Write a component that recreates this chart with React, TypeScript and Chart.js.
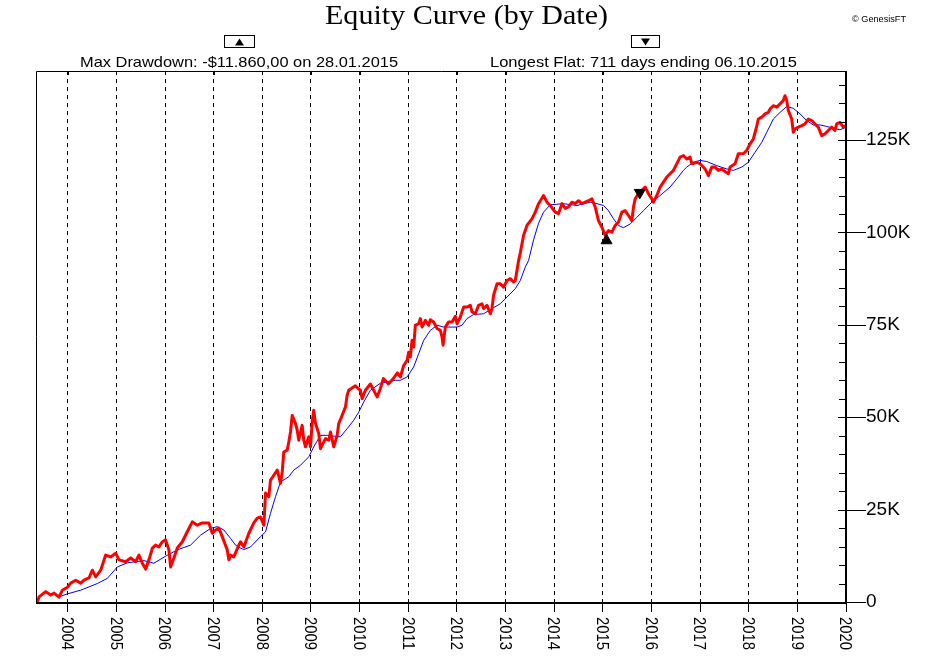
import { useEffect, useRef } from 'react';
import { Chart, registerables } from 'chart.js';

Chart.register(...registerables);

// ---------- data (dates as decimal years, equity in thousands of $) ----------
const redDates = [
  2003.378, 2003.411, 2003.548, 2003.651, 2003.719, 2003.821, 2003.891, 2003.994, 2004.062, 2004.164,
  2004.267, 2004.335, 2004.437, 2004.507, 2004.575, 2004.678, 2004.780, 2004.883, 2004.986, 2005.054,
  2005.191, 2005.294, 2005.397, 2005.464, 2005.534, 2005.602, 2005.670, 2005.740, 2005.807, 2005.875,
  2005.945, 2006.013, 2006.081, 2006.115, 2006.183, 2006.253, 2006.356, 2006.458, 2006.561, 2006.664,
  2006.766, 2006.902, 2006.972, 2007.040, 2007.107, 2007.177, 2007.280, 2007.313, 2007.348, 2007.415,
  2007.518, 2007.553, 2007.621, 2007.724, 2007.826, 2007.896, 2007.964, 2008.032, 2008.067, 2008.134,
  2008.169, 2008.237, 2008.307, 2008.375, 2008.410, 2008.442, 2008.512, 2008.545, 2008.580, 2008.615,
  2008.683, 2008.718, 2008.750, 2008.820, 2008.853, 2008.888, 2008.956, 2008.991, 2009.026, 2009.058,
  2009.093, 2009.161, 2009.196, 2009.299, 2009.367, 2009.402, 2009.469, 2009.539, 2009.572, 2009.642,
  2009.710, 2009.744, 2009.777, 2009.915, 2010.018, 2010.053, 2010.120, 2010.223, 2010.361, 2010.428,
  2010.490, 2010.593, 2010.695, 2010.778, 2010.839, 2010.907, 2010.977, 2011.010, 2011.044, 2011.079,
  2011.112, 2011.147, 2011.215, 2011.250, 2011.285, 2011.353, 2011.420, 2011.455, 2011.523, 2011.593,
  2011.661, 2011.696, 2011.716, 2011.763, 2011.831, 2011.901, 2011.969, 2012.004, 2012.071, 2012.139,
  2012.209, 2012.277, 2012.312, 2012.380, 2012.447, 2012.517, 2012.550, 2012.620, 2012.688, 2012.722,
  2012.755, 2012.825, 2012.893, 2012.961, 2013.031, 2013.098, 2013.166, 2013.201, 2013.236, 2013.269,
  2013.304, 2013.371, 2013.441, 2013.544, 2013.612, 2013.680, 2013.782, 2013.852, 2013.920, 2014.023,
  2014.090, 2014.160, 2014.228, 2014.296, 2014.366, 2014.433, 2014.501, 2014.571, 2014.639, 2014.706,
  2014.776, 2014.844, 2014.912, 2014.982, 2015.050, 2015.117, 2015.187, 2015.255, 2015.323, 2015.392,
  2015.460, 2015.528, 2015.598, 2015.631, 2015.666, 2015.733, 2015.803, 2015.871, 2015.939, 2016.008,
  2016.041, 2016.111, 2016.179, 2016.247, 2016.317, 2016.384, 2016.452, 2016.590, 2016.658, 2016.727,
  2016.795, 2016.830, 2016.933, 2017.001, 2017.103, 2017.171, 2017.241, 2017.309, 2017.376, 2017.446,
  2017.514, 2017.582, 2017.617, 2017.719, 2017.787, 2017.890, 2017.960, 2018.027, 2018.095, 2018.151,
  2018.198, 2018.268, 2018.336, 2018.403, 2018.438, 2018.506, 2018.576, 2018.644, 2018.711, 2018.746,
  2018.781, 2018.814, 2018.884, 2018.917, 2018.952, 2019.020, 2019.089, 2019.157, 2019.225, 2019.295,
  2019.362, 2019.430, 2019.500, 2019.568, 2019.636, 2019.705, 2019.773, 2019.808, 2019.876, 2019.944,
  2020.000,
];
const redEquity = [
  0, 1.4, 2.8, 1.9, 2.4, 1.3, 3.2, 4.0, 5.1, 5.9,
  5.1, 5.9, 6.5, 8.6, 6.8, 8.6, 12.7, 12.2, 13.2, 11.4,
  10.9, 11.9, 10.9, 12.7, 10.5, 8.9, 11.4, 14.6, 15.4, 14.9,
  16.3, 16.8, 14.1, 9.5, 11.9, 14.6, 16.3, 19.0, 21.7, 20.8,
  21.4, 21.4, 18.6, 19.5, 20.0, 17.7, 14.1, 11.4, 12.7, 12.2,
  15.4, 16.3, 14.9, 18.6, 21.4, 22.7, 23.0, 20.8, 29.5, 28.5,
  33.0, 34.3, 35.7, 32.1, 35.2, 40.6, 41.1, 43.3, 46.0, 50.5,
  48.3, 46.5, 43.8, 47.8, 43.8, 42.0, 44.7, 42.0, 48.7, 51.9,
  48.3, 45.6, 41.5, 44.2, 43.8, 46.0, 42.0, 45.1, 48.3, 50.5,
  52.8, 55.9, 57.3, 58.5, 57.3, 55.0, 57.3, 59.0, 55.5, 57.8,
  60.5, 59.0, 60.5, 62.0, 60.9, 64.0, 65.4, 67.6, 66.3, 70.8,
  69.0, 74.9, 75.3, 76.7, 74.4, 76.2, 74.9, 76.4, 75.8, 74.0,
  73.5, 71.7, 69.5, 74.4, 75.8, 75.8, 77.3, 75.3, 77.1, 79.8,
  79.8, 80.3, 78.5, 78.0, 80.3, 80.7, 79.4, 80.3, 78.0, 79.4,
  83.0, 86.1, 86.1, 85.2, 87.0, 87.5, 86.6, 87.0, 89.7, 92.4,
  94.5, 99.2, 101.9, 103.7, 105.5, 107.8, 110.0, 108.2, 107.3, 105.5,
  105.1, 107.8, 106.5, 106.9, 108.2, 107.8, 108.6, 107.8, 108.2, 108.6,
  109.1, 106.9, 103.2, 101.4, 99.2, 100.5, 100.1, 101.9, 102.8, 105.5,
  105.9, 104.6, 103.2, 106.9, 109.1, 110.5, 111.4, 112.3, 110.5, 109.1,
  108.2, 110.0, 112.3, 113.6, 115.0, 115.9, 116.8, 120.4, 120.8, 119.9,
  120.4, 118.6, 119.0, 118.6, 117.2, 115.4, 117.7, 117.7, 116.8, 117.2,
  116.5, 115.9, 117.7, 118.6, 121.3, 121.3, 122.2, 124.0, 125.3, 128.0,
  130.7, 131.2, 132.1, 132.5, 133.4, 134.3, 133.9, 134.8, 135.7, 137.0,
  135.7, 133.0, 130.7, 127.1, 128.0, 128.5, 128.9, 129.4, 130.7, 130.3,
  129.4, 128.5, 126.2, 126.7, 127.6, 128.5, 127.6, 129.4, 129.8, 128.5,
  128.9,
];

const avgDates = [
  2003.821, 2003.994, 2004.267, 2004.610, 2004.815, 2005.021, 2005.226, 2005.567, 2005.772, 2006.013,
  2006.253, 2006.526, 2006.732, 2006.937, 2007.074, 2007.210, 2007.348, 2007.450, 2007.553, 2007.621,
  2007.758, 2007.964, 2008.067, 2008.169, 2008.272, 2008.375, 2008.545, 2008.648, 2008.785, 2008.956,
  2009.058, 2009.196, 2009.334, 2009.607, 2009.744, 2009.880, 2009.983, 2010.085, 2010.223, 2010.428,
  2010.736, 2010.839, 2010.977, 2011.112, 2011.215, 2011.318, 2011.455, 2011.593, 2011.729, 2012.004,
  2012.106, 2012.209, 2012.345, 2012.550, 2012.722, 2012.893, 2013.031, 2013.201, 2013.304, 2013.406,
  2013.474, 2013.577, 2013.680, 2013.782, 2013.920, 2014.193, 2014.468, 2014.741, 2014.879, 2015.015,
  2015.117, 2015.220, 2015.323, 2015.425, 2015.563, 2015.700, 2015.836, 2016.008, 2016.179, 2016.384,
  2016.522, 2016.658, 2016.727, 2016.863, 2017.001, 2017.138, 2017.343, 2017.549, 2017.685, 2017.857,
  2017.993, 2018.130, 2018.268, 2018.371, 2018.506, 2018.644, 2018.781, 2018.917, 2019.054, 2019.191,
  2019.327, 2019.465, 2019.603, 2019.738, 2019.876, 2020.000,
];
const avgEquity = [
  1.4, 2.2, 3.2, 5.0, 6.4, 9.5, 10.6, 11.2, 10.5, 12.4,
  14.1, 15.4, 18.1, 19.9, 20.4, 19.5, 17.2, 15.4, 14.6, 14.2,
  14.9, 17.7, 19.0, 24.0, 28.5, 32.5, 33.9, 35.7, 37.0, 39.3,
  42.0, 45.1, 45.1, 44.7, 46.9, 49.2, 51.4, 54.1, 57.3, 59.2,
  60.0, 60.0, 60.9, 63.6, 67.2, 70.8, 73.5, 74.9, 74.4, 74.4,
  74.9, 76.7, 77.8, 78.0, 79.4, 80.7, 82.5, 84.8, 87.0, 90.6,
  92.4, 98.0, 102.5, 105.5, 107.5, 107.8, 107.3, 108.2, 107.8, 107.3,
  105.9, 103.7, 101.9, 101.3, 102.3, 104.1, 105.9, 108.2, 110.0, 112.3,
  114.5, 116.8, 117.7, 119.0, 119.5, 119.2, 118.1, 117.2, 116.8, 117.7,
  119.0, 121.7, 124.4, 127.1, 130.7, 132.5, 134.1, 133.6, 132.1, 130.3,
  129.1, 129.1, 128.7, 128.2, 127.8, 128.5,
];

// max drawdown low (28.01.2015) and end of longest flat (06.10.2015)
const markerDates = [2015.077, 2015.76];
const markerEquity = [97.8, 110.8];
const markerRotation = [0, 180];

const X_MIN = 2003.348;
const X_MAX = 2020;
const Y_MAX = 143.7;

const TITLE = 'Equity Curve (by Date)';
const COPYRIGHT = '© GenesisFT';
const SUB_LEFT = 'Max Drawdown: -$11.860,00 on 28.01.2015';
const SUB_RIGHT = 'Longest Flat: 711 days ending 06.10.2015';

const SANS = 'Arial, "Liberation Sans", sans-serif';
const SERIF = '"Liberation Serif", "Times New Roman", serif';

function fitText(ctx: CanvasRenderingContext2D, text: string, font: string, x: number, y: number, width: number) {
  ctx.save();
  ctx.font = font;
  ctx.textAlign = 'left';
  ctx.textBaseline = 'alphabetic';
  const w = ctx.measureText(text).width;
  ctx.translate(x, y);
  ctx.scale(width / w, 1);
  ctx.fillText(text, 0, 0);
  ctx.restore();
}

const decorPlugin = {
  id: 'decor',
  afterDraw(chart: any) {
    const ctx: CanvasRenderingContext2D = chart.ctx;
    const { left, right, top, bottom } = chart.chartArea;
    const xs = chart.scales.x;
    const ys = chart.scales.y;
    ctx.save();
    ctx.strokeStyle = '#000';
    ctx.fillStyle = '#000';
    ctx.setLineDash([]);

    // frame
    ctx.lineWidth = 1;
    ctx.beginPath();
    ctx.moveTo(left + 0.5, bottom);
    ctx.lineTo(left + 0.5, top + 0.5);
    ctx.lineTo(right, top + 0.5);
    ctx.stroke();
    ctx.lineWidth = 2;
    ctx.beginPath();
    ctx.moveTo(left, bottom + 1);
    ctx.lineTo(right + 1, bottom + 1);
    ctx.stroke();
    ctx.beginPath();
    ctx.moveTo(right, top);
    ctx.lineTo(right, bottom + 2);
    ctx.stroke();

    // small ticks under the top border
    ctx.lineWidth = 1;
    ctx.beginPath();
    for (const t of xs.ticks) {
      const px = Math.round(xs.getPixelForValue(t.value)) + 0.5;
      ctx.moveTo(px, top);
      ctx.lineTo(px, top + 4);
    }
    ctx.stroke();

    // y ticks: minor inside, major crossing
    ctx.beginPath();
    for (let v = 0; v <= 140; v += 5) {
      const py = Math.round(ys.getPixelForValue(v)) + 0.5;
      if (v % 25 === 0) {
        ctx.moveTo(right - 8, py);
        ctx.lineTo(right + 20, py);
      } else {
        ctx.moveTo(right - 7, py);
        ctx.lineTo(right, py);
      }
    }
    ctx.stroke();

    // rotated year labels (reading top to bottom)
    ctx.font = `17px ${SANS}`;
    for (const t of xs.ticks) {
      const label = String(t.value);
      const px = xs.getPixelForValue(t.value);
      const w = ctx.measureText(label).width;
      ctx.save();
      ctx.translate(px - 1, bottom + 15);
      ctx.rotate(Math.PI / 2);
      ctx.scale(33 / w, 1);
      ctx.textAlign = 'left';
      ctx.textBaseline = 'middle';
      ctx.fillText(label, 0, 0);
      ctx.restore();
    }

    // title and header texts
    fitText(ctx, TITLE, `28px ${SERIF}`, 325, 23.5, 283);
    fitText(ctx, COPYRIGHT, `9px ${SANS}`, 852, 22, 54);
    fitText(ctx, SUB_LEFT, `15px ${SANS}`, 80, 67, 318);
    fitText(ctx, SUB_RIGHT, `15px ${SANS}`, 490, 67, 307);

    // header boxes with triangles
    ctx.lineWidth = 1;
    ctx.strokeRect(224.5, 35.5, 30, 12);
    ctx.beginPath();
    ctx.moveTo(239.5, 38.5);
    ctx.lineTo(244, 45.5);
    ctx.lineTo(235, 45.5);
    ctx.closePath();
    ctx.fill();
    ctx.strokeRect(631.5, 35.5, 28, 12);
    ctx.beginPath();
    ctx.moveTo(641, 38.5);
    ctx.lineTo(650, 38.5);
    ctx.lineTo(645.5, 45.5);
    ctx.closePath();
    ctx.fill();

    ctx.restore();
  },
};

export default function App() {
  const ref = useRef<HTMLCanvasElement>(null);

  useEffect(() => {
    if (!ref.current) return;
    const redData = redDates.map((d, i) => ({ x: d, y: redEquity[i] }));
    const avgData = avgDates.map((d, i) => ({ x: d, y: avgEquity[i] }));
    const markData = markerDates.map((d, i) => ({ x: d, y: markerEquity[i] }));

    const chart = new Chart(ref.current, {
      type: 'line',
      data: {
        datasets: [
          {
            data: markData,
            showLine: false,
            pointStyle: 'triangle',
            pointRadius: 6.3,
            pointRotation: markerRotation,
            pointBackgroundColor: '#000',
            pointBorderColor: '#000',
            pointBorderWidth: 1,
            order: 0,
          },
          {
            data: redData,
            borderColor: '#ff0000',
            borderWidth: 3,
            pointRadius: 0,
            tension: 0,
            borderJoinStyle: 'round',
            order: 1,
          },
          {
            data: avgData,
            borderColor: '#0000ff',
            borderWidth: 1,
            pointRadius: 0,
            tension: 0,
            order: 2,
          },
        ] as any,
      },
      options: {
        responsive: false,
        animation: false,
        devicePixelRatio: 1,
        layout: { padding: { left: 36, top: 71, right: 0, bottom: 0 } },
        plugins: {
          legend: { display: false },
          tooltip: { enabled: false },
          title: { display: false },
        },
        scales: {
          x: {
            type: 'linear',
            min: X_MIN,
            max: X_MAX,
            afterFit: (s: any) => {
              s.height = 58;
            },
            ticks: { display: false, stepSize: 1, includeBounds: false },
            grid: {
              display: true,
              drawOnChartArea: true,
              drawTicks: true,
              tickLength: 10,
              color: '#000',
              lineWidth: 1,
              tickColor: '#000',
              tickWidth: 1,
              tickBorderDash: [],
            },
            border: { display: false, dash: [4, 4] },
          },
          y: {
            type: 'linear',
            position: 'right',
            min: 0,
            max: Y_MAX,
            afterFit: (s: any) => {
              s.width = 86;
            },
            ticks: {
              stepSize: 25,
              includeBounds: false,
              padding: 1,
              color: '#000',
              font: { family: SANS, size: 19 },
              callback: (v: any) => (v === 0 ? '0' : `${v}K`),
            },
            grid: { display: false, drawTicks: true, tickLength: 19 },
            border: { display: false },
          },
        } as any,
      },
      plugins: [decorPlugin],
    });
    return () => chart.destroy();
  }, []);

  return (
    <div style={{ position: 'absolute', left: 0, top: 0, width: 932, height: 660, background: '#fff' }}>
      <canvas ref={ref} width={932} height={660} style={{ display: 'block', width: 932, height: 660 }} />
    </div>
  );
}
